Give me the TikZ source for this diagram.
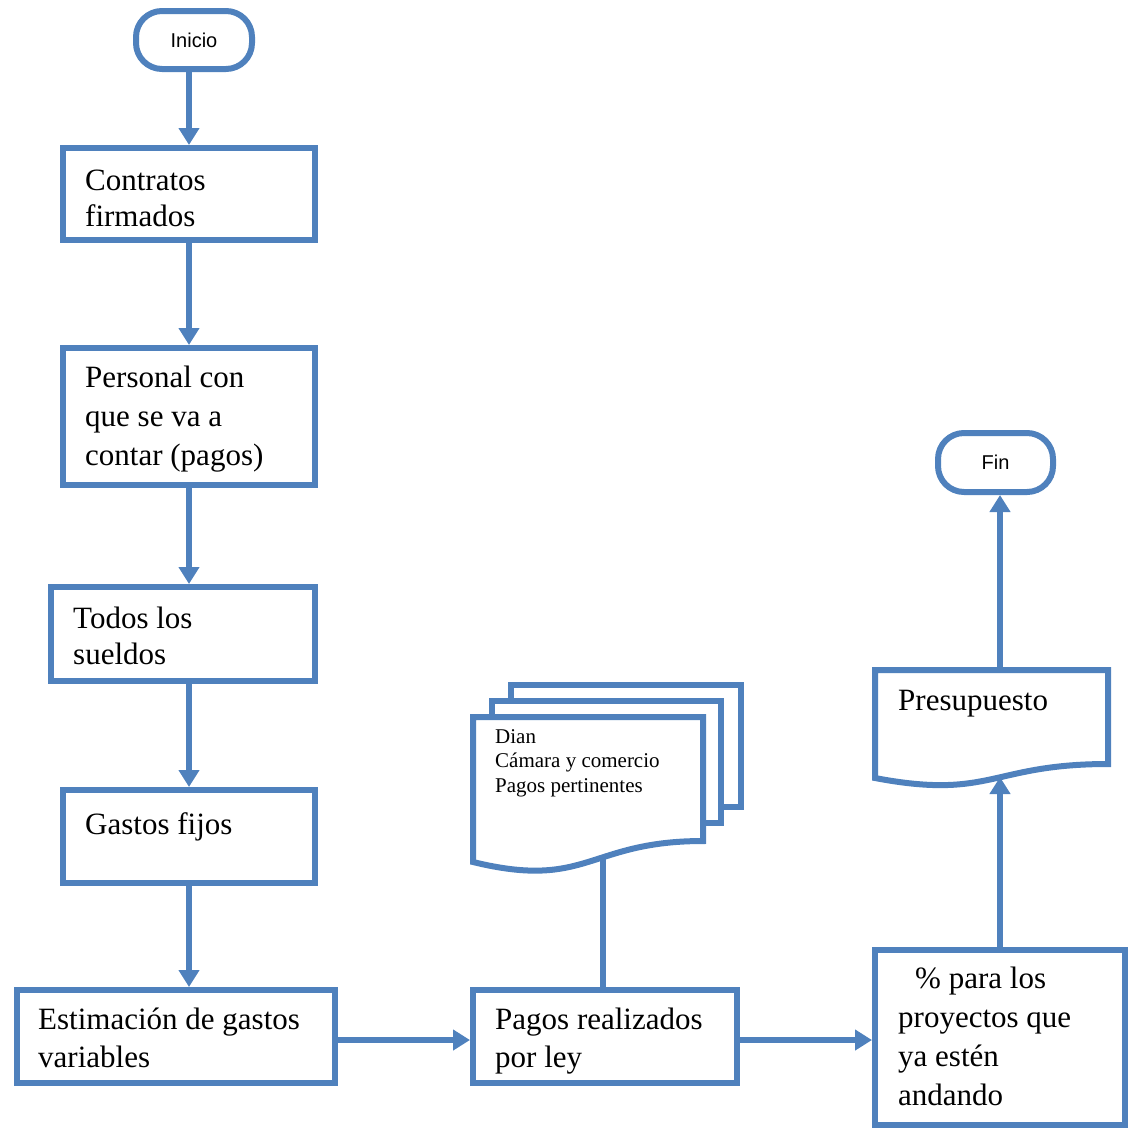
\documentclass[tikz,border=0pt]{standalone}
\usepackage{fontspec}
\setmainfont{Liberation Serif}
\newfontfamily\labelsans{Liberation Sans}
\usetikzlibrary{arrows.meta}
\definecolor{flowblue}{HTML}{4F81BD}
% left-aligned stack of lines whose baseline is that of the first line
\newcommand\linesat[2]{\vtop{\baselineskip=#1pt\relax\lineskiplimit=-100pt\halign{##\hfil\cr#2\crcr}}}
\begin{document}
\begin{tikzpicture}[x=1pt,y=-1pt,
  box/.style={draw=flowblue,line width=6pt,fill=white,inner sep=0pt,rectangle},
  term/.style={box,rounded corners=26pt,font=\labelsans\fontsize{20}{24}\selectfont},
  arr/.style={draw=flowblue,line width=6pt,-{Triangle[width=20pt,length=17pt]}},
  conn/.style={draw=flowblue,line width=6pt},
  txt/.style={anchor=base west,inner sep=0pt,font=\fontsize{31}{37}\selectfont},
  small/.style={anchor=base west,inner sep=0pt,font=\fontsize{21}{25}\selectfont}]
\useasboundingbox (0,0) rectangle (1129,1128);

% terminals
\node[term,minimum width=116pt,minimum height=58pt] (inicio) at (194,40) {Inicio};
\node[term,minimum width=115pt,minimum height=59pt] (fin) at (995.5,462.5) {Fin};

% process boxes
\node[box,minimum width=252pt,minimum height=92pt]  (contratos) at (189,194) {};
\node[box,minimum width=252pt,minimum height=137pt] (personal)  at (189,416.5) {};
\node[box,minimum width=264pt,minimum height=94pt]  (todos)     at (183,634) {};
\node[box,minimum width=252pt,minimum height=93pt]  (gastos)    at (189,836.5) {};
\node[box,minimum width=318pt,minimum height=93pt]  (estim)     at (176,1036.5) {};
\node[box,minimum width=264pt,minimum height=93pt]  (pagos)     at (605,1036.5) {};
\node[box,minimum width=250pt,minimum height=175pt] (pct)       at (1000,1037.5) {};

% stacked documents
\draw[conn,fill=white] (511,685) rectangle (741,807);
\draw[conn,fill=white] (492,701) rectangle (721,823);
\draw[conn,fill=white] (473,717) -- (703,717) -- (703,841)
  .. controls (588,841) and (588,890) .. (473,862) -- cycle;
\coordinate (docfoot) at (603,858);

% budget document
\draw[conn,fill=white] (875,670) -- (1108,670) -- (1108,764)
  .. controls (991,764) and (991,800) .. (875,778) -- cycle;
\coordinate (prestop) at (1000,667);
\coordinate (presfoot) at (1000,777);

% connectors
\draw[arr] (contratos.north |- inicio.south) -- (contratos.north);
\draw[arr] (contratos.south) -- (personal.north);
\draw[arr] (personal.south) -- (personal.south |- todos.north);
\draw[arr] (personal.south |- todos.south) -- (gastos.north);
\draw[arr] (gastos.south) -- (gastos.south |- estim.north);
\draw[arr] ([yshift=-3.5pt]estim.east) -- ([yshift=-3.5pt]pagos.west);
\draw[arr] ([yshift=-3.5pt]pagos.east) -- ([yshift=-3.5pt]pagos.east -| pct.west);
\draw[conn] (pagos.north -| docfoot) -- (docfoot);
\draw[arr] (pct.north) -- (presfoot);
\draw[arr] (prestop) -- (fin.south -| prestop);

% texts
\node[txt] (tcontratos) at (85,190) {\linesat{36}{Contratos\cr firmados}};
\node[txt] (tpersonal) at (85,387) {\linesat{39}{Personal con\cr que se va a\cr contar (pagos)}};
\node[txt] (ttodos) at (73,628) {\linesat{36}{Todos los\cr sueldos}};
\node[txt] (tgastos) at (85,834) {Gastos fijos};
\node[txt] (testim) at (38,1029) {\linesat{38}{Estimación de gastos\cr variables}};
\node[txt] (tpagos) at (495,1029) {\linesat{38}{Pagos realizados\cr por ley}};
\node[txt] (tpct) at (898,988) {\linesat{39}{\kern17pt\% para los\cr proyectos que\cr ya estén\cr andando}};
\node[txt] (tpres) at (898,710) {Presupuesto};
\node[small] (tdocs) at (495,743) {\linesat{24.5}{Dian\cr Cámara y comercio\cr Pagos pertinentes}};
\end{tikzpicture}
\end{document}
